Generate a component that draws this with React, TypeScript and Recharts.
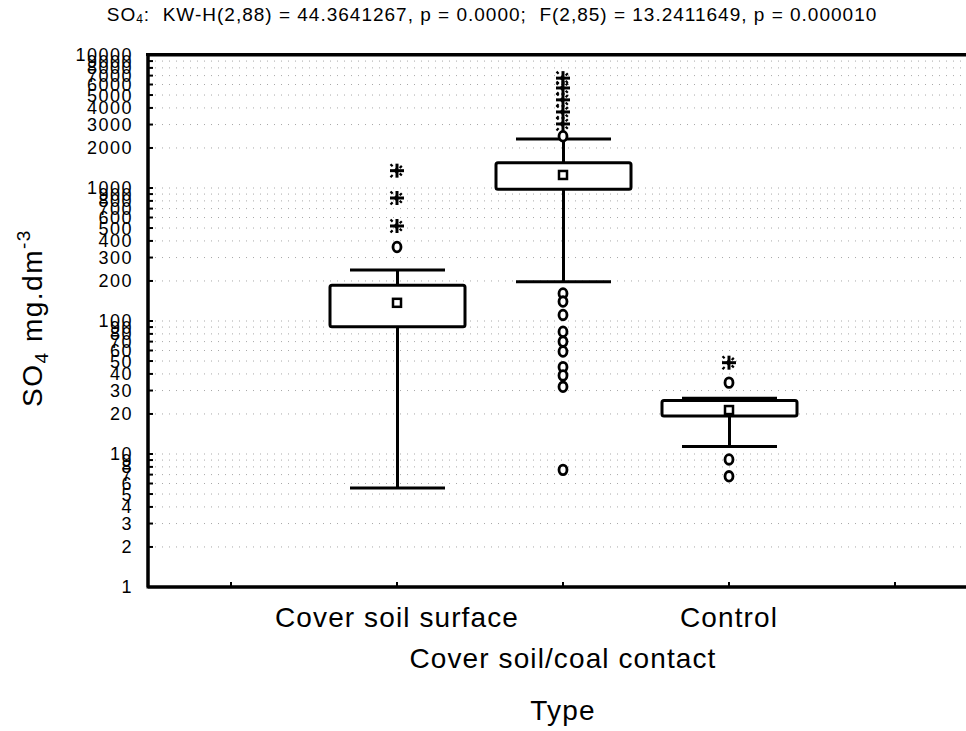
import React from "react";
import { ComposedChart, Bar, Scatter, XAxis, YAxis, CartesianGrid, ReferenceArea } from "recharts";

const FONT = "'Liberation Sans', Arial, sans-serif";

// categories (first and last are empty padding slots, as in the original plot)
const CATEGORIES = ["", "Cover soil surface", "Cover soil/coal contact", "Control", ""];

// box plot statistics per category
const WHISKER_LOW = [null, 5.55, 197, 11.4, null];
const WHISKER_HIGH = [null, 242, 2335, 26.2, null];
const BOX_LOW = [null, 90.6, 979, 19.3, null];
const BOX_HIGH = [null, 186, 1550, 25.2, null];
const MEDIANS = [null, 137, 1253, 21.4, null];

// outliers (circles) and extremes (asterisks)
const OUTLIERS_SURFACE = [360];
const EXTREMES_SURFACE = [1350, 841, 518];
const OUTLIERS_CONTACT = [2450, 161, 140, 111, 83, 70, 59, 45, 39, 32, 7.6];
const EXTREMES_CONTACT = [6700, 5650, 4600, 3730, 3030];
const OUTLIERS_CONTROL = [34.4, 9.1, 6.8];
const EXTREMES_CONTROL = [48.6];

const Y_MIN = 1;
const Y_MAX = 10000;
const Y_TICKS = [
  1, 2, 3, 4, 5, 6, 7, 8, 9,
  10, 20, 30, 40, 50, 60, 70, 80, 90,
  100, 200, 300, 400, 500, 600, 700, 800, 900,
  1000, 2000, 3000, 4000, 5000, 6000, 7000, 8000, 9000,
  10000,
];

const data = CATEGORIES.map((name, i) => ({
  name,
  whisker: WHISKER_LOW[i] == null ? null : [WHISKER_LOW[i], WHISKER_HIGH[i]],
  box: BOX_LOW[i] == null ? null : [BOX_LOW[i], BOX_HIGH[i]],
}));

const pts = (cat: string, values: number[]) =>
  values.map((v) => ({ x: CATEGORIES.indexOf(cat) + 0.5, v }));

const medianPts = CATEGORIES.map((c, i) => (MEDIANS[i] == null ? null : { x: i + 0.5, v: MEDIANS[i] })).filter(
  Boolean
) as { x: number; v: number }[];

const outlierPts = [
  ...pts("Cover soil surface", OUTLIERS_SURFACE),
  ...pts("Cover soil/coal contact", OUTLIERS_CONTACT),
  ...pts("Control", OUTLIERS_CONTROL),
];
const extremePts = [
  ...pts("Cover soil surface", EXTREMES_SURFACE),
  ...pts("Cover soil/coal contact", EXTREMES_CONTACT),
  ...pts("Control", EXTREMES_CONTROL),
];

const WhiskerShape = (props: any) => {
  const { x, y, width, height, payload } = props;
  if (!payload || !payload.whisker || !Number.isFinite(y) || !Number.isFinite(height)) return <g />;
  const cx = x + width / 2;
  return (
    <g stroke="#000" strokeWidth={3}>
      <line x1={cx} x2={cx} y1={y} y2={y + height} />
      <line x1={x} x2={x + width} y1={y} y2={y} />
      <line x1={x} x2={x + width} y1={y + height} y2={y + height} />
    </g>
  );
};

const BoxShape = (props: any) => {
  const { x, y, width, height, payload } = props;
  if (!payload || !payload.box || !Number.isFinite(y) || !Number.isFinite(height)) return <g />;
  return <rect x={x} y={y} width={width} height={height} rx={2} fill="#fff" stroke="#000" strokeWidth={3} />;
};

const MedianShape = ({ cx, cy }: any) => (
  <rect x={cx - 4} y={cy - 4} width={8} height={8} fill="#fff" stroke="#000" strokeWidth={2.5} />
);

const OutlierShape = ({ cx, cy }: any) => (
  <ellipse cx={cx} cy={cy} rx={4} ry={4.8} fill="#fff" stroke="#000" strokeWidth={2.8} />
);

const ExtremeShape = ({ cx, cy }: any) => (
  <g stroke="#000">
    <line x1={cx - 7} x2={cx + 7} y1={cy} y2={cy} strokeWidth={3} />
    <line x1={cx} x2={cx} y1={cy - 7} y2={cy + 7} strokeWidth={3} />
    <line x1={cx - 6.5} x2={cx + 6.5} y1={cy - 6.5} y2={cy + 6.5} strokeWidth={2.2} strokeDasharray="3 3.5" />
    <line x1={cx - 6.5} x2={cx + 6.5} y1={cy + 6.5} y2={cy - 6.5} strokeWidth={2.2} strokeDasharray="3 3.5" />
  </g>
);

const YTick = ({ x, y, payload }: any) => (
  <g>
    <text x={x} y={y} dy="0.36em" textAnchor="end" fontSize={18} letterSpacing={1.5} fontFamily={FONT} fill="#000">
      {payload.value}
    </text>
    <line x1={x + 15} x2={x + 20} y1={y} y2={y} stroke="#000" strokeWidth={2} />
  </g>
);

const XTick = ({ x, y, payload, index }: any) => {
  const drop = index % 2 === 1 ? 40 : 81;
  return (
    <g>
      <line x1={x} x2={x} y1={y} y2={y - 5} stroke="#000" strokeWidth={2} />
      {payload.value ? (
        <text x={x} y={y + drop} textAnchor="middle" fontSize={28} letterSpacing={1.1} fontFamily={FONT} fill="#000">
          {payload.value}
        </text>
      ) : null}
    </g>
  );
};

const XTitle = ({ viewBox }: any) => (
  <text
    x={viewBox.x + viewBox.width / 2}
    y={viewBox.y + 133}
    textAnchor="middle"
    fontSize={28}
    letterSpacing={1.2}
    fontFamily={FONT}
    fill="#000"
  >
    Type
  </text>
);

const YTitle = ({ viewBox }: any) => (
  <text
    transform={`translate(${viewBox.x + 42}, ${viewBox.y + viewBox.height / 2 - 3}) rotate(-90)`}
    textAnchor="middle"
    fontSize={28}
    letterSpacing={1.5}
    fontFamily={FONT}
    fill="#000"
  >
    SO
    <tspan fontSize={19} dy={6}>
      4
    </tspan>
    <tspan dy={-6}> mg.dm</tspan>
    <tspan fontSize={19} dy={-12}>
      -3
    </tspan>
  </text>
);

export default function App() {
  return (
    <div
      style={{
        position: "absolute",
        left: 0,
        top: 0,
        width: 966,
        height: 731,
        overflow: "hidden",
        background: "#fff",
      }}
    >
      <div
        style={{
          position: "absolute",
          left: 0,
          top: 4,
          width: 984,
          textAlign: "center",
          fontFamily: FONT,
          fontSize: 19,
          lineHeight: "22px",
          letterSpacing: 1,
          whiteSpace: "nowrap",
          color: "#000",
        }}
      >
        SO<sub style={{ fontSize: 12, verticalAlign: "-2px" }}>4</sub>:&nbsp; KW-H(2,88) = 44.3641267, p = 0.0000;&nbsp; F(2,85) =
        13.2411649, p = 0.000010
      </div>
      <ComposedChart width={1000} height={731} data={data} margin={{ top: 55, right: 22, bottom: 0, left: 0 }}>
        <CartesianGrid
          xAxisId="cat"
          yAxisId="y"
          vertical={false}
          stroke="#a8a8a8"
          strokeDasharray="1 6"
        />
        <XAxis
          xAxisId="cat"
          dataKey="name"
          interval={0}
          height={144}
          tickSize={0}
          tickMargin={0}
          tickLine={false}
          tick={<XTick />}
          axisLine={{ stroke: "#000", strokeWidth: 3 }}
          label={<XTitle />}
        />
        <XAxis xAxisId="box" dataKey="name" height={0} hide />
        <XAxis xAxisId="num" dataKey="x" type="number" domain={[0, 5]} allowDataOverflow height={0} hide />
        <YAxis
          yAxisId="y"
          type="number"
          scale="log"
          domain={[Y_MIN, Y_MAX]}
          allowDataOverflow
          ticks={Y_TICKS}
          interval={0}
          width={148}
          tickSize={0}
          tickMargin={15}
          tickLine={false}
          tick={<YTick />}
          axisLine={{ stroke: "#000", strokeWidth: 3 }}
          label={<YTitle />}
        />
        {/* plot frame: outlines the whole value range, so its top edge is the top border */}
        <ReferenceArea
          xAxisId="num"
          yAxisId="y"
          x1={0}
          x2={5}
          y1={Y_MIN}
          y2={Y_MAX}
          fill="none"
          fillOpacity={0}
          stroke="#000"
          strokeWidth={3}
          ifOverflow="visible"
        />
        <Bar
          xAxisId="cat"
          yAxisId="y"
          dataKey="whisker"
          barSize={95}
          shape={<WhiskerShape />}
          isAnimationActive={false}
        />
        <Bar
          xAxisId="box"
          yAxisId="y"
          dataKey="box"
          barSize={135}
          shape={<BoxShape />}
          isAnimationActive={false}
        />
        <Scatter
          xAxisId="num"
          yAxisId="y"
          data={outlierPts}
          dataKey="v"
          shape={<OutlierShape />}
          isAnimationActive={false}
        />
        <Scatter
          xAxisId="num"
          yAxisId="y"
          data={extremePts}
          dataKey="v"
          shape={<ExtremeShape />}
          isAnimationActive={false}
        />
        <Scatter
          xAxisId="num"
          yAxisId="y"
          data={medianPts}
          dataKey="v"
          shape={<MedianShape />}
          isAnimationActive={false}
        />
      </ComposedChart>
      {/* top frame of the plot area */}
      <div
        style={{
          position: "absolute",
          zIndex: 10,
          left: 146,
          top: 53,
          width: 830,
          height: 0,
          borderTop: "3px solid #000",
        }}
      />
    </div>
  );
}
